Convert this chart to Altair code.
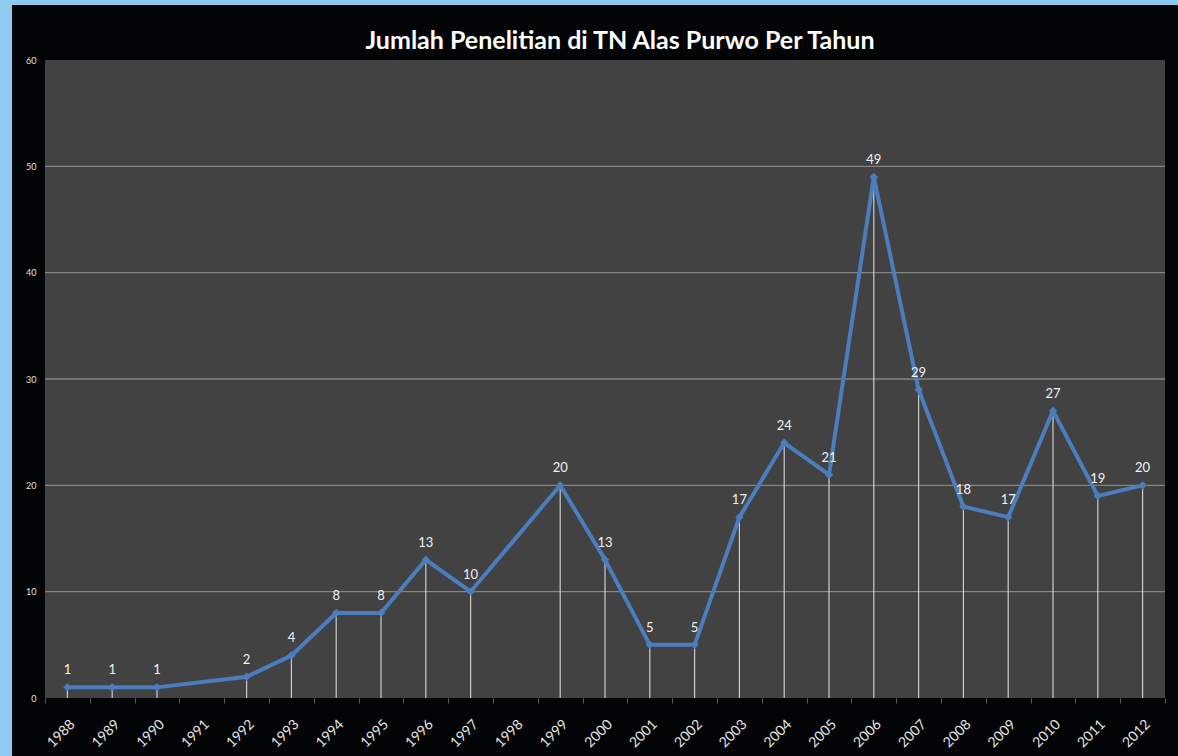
import altair as alt
import pandas as pd

# Number of research projects per year in Alas Purwo National Park
years = [str(y) for y in range(1988, 2013)]
data_years = ["1988", "1989", "1990", "1992", "1993", "1994", "1995", "1996",
              "1997", "1999", "2000", "2001", "2002", "2003", "2004", "2005",
              "2006", "2007", "2008", "2009", "2010", "2011", "2012"]
counts = [1, 1, 1, 2, 4, 8, 8, 13, 10, 20, 13, 5, 5, 17, 24, 21, 49, 29, 18,
          17, 27, 19, 20]
grid_values = [10, 20, 30, 40, 50]

W, H = 1120, 638
LINE_BLUE = "#4a7ebf"
FONT = "Lato"

df = pd.DataFrame({"year": data_years, "value": counts})
grid_df = pd.DataFrame({"value": grid_values})
one = pd.DataFrame({"k": [0]})

x_enc = alt.X(
    "year:N",
    bandPosition=0.5,
    scale=alt.Scale(type="band", domain=years, paddingInner=0, paddingOuter=0),
    axis=alt.Axis(
        title=None, labelAngle=-45, labelFontSize=14, labelColor="#e4e4e4",
        labelFont=FONT, domain=False, tickBand="extent", tickColor="#5a5a5a",
        tickSize=5, labelPadding=14, zindex=1,
    ),
)
y_enc = alt.Y(
    "value:Q",
    scale=alt.Scale(domain=[0, 60], nice=False),
    axis=alt.Axis(
        title=None, values=[0, 10, 20, 30, 40, 50, 60], labelFontSize=9,
        labelColor="#e0e0e0", labelFont=FONT, grid=False, domain=False,
        ticks=False, labelPadding=9, zindex=1,
    ),
)

# black frame behind the whole chart and the grey plotting panel
frame = alt.Chart(one).mark_rect(color="#030405").encode(
    x=alt.value(-33), x2=alt.value(W + 13), y=alt.value(-55), y2=alt.value(H + 58)
)
panel = alt.Chart(one).mark_rect(color="#424242").encode(
    x=alt.value(0), x2=alt.value(W), y=alt.value(0), y2=alt.value(H)
)

grid = alt.Chart(grid_df).mark_rule(color="#858585", strokeWidth=1.3).encode(y=y_enc)

drops = alt.Chart(df).mark_rule(color="#dcdcdc", strokeWidth=1.2, opacity=0.9).encode(
    x=x_enc, y=y_enc, y2=alt.datum(0)
)

line = alt.Chart(df).mark_line(color=LINE_BLUE, strokeWidth=4).encode(x=x_enc, y=y_enc)

points = alt.Chart(df).mark_point(
    shape="diamond", filled=True, size=70, color=LINE_BLUE, opacity=1
).encode(x=x_enc, y=y_enc)

labels = alt.Chart(df).mark_text(
    dy=-17, color="#f2f2f2", fontSize=13, font=FONT
).encode(x=x_enc, y=y_enc, text="value:Q")

chart = alt.layer(frame, panel, grid, drops, line, points, labels).properties(
    width=W,
    height=H,
    title=alt.TitleParams(
        "Jumlah Penelitian di TN Alas Purwo Per Tahun",
        font=FONT, fontSize=25, fontWeight="bold", color="white",
        anchor="middle", frame="group", dx=15, dy=57, offset=8,
    ),
    background="#8ecaf0",
    padding={"left": 45, "top": 60, "right": 13, "bottom": 58},
    autosize=alt.AutoSizeParams(type="none"),
).configure_view(stroke=None)

chart.save("out.html", embed_options={"renderer": "svg", "actions": False})
